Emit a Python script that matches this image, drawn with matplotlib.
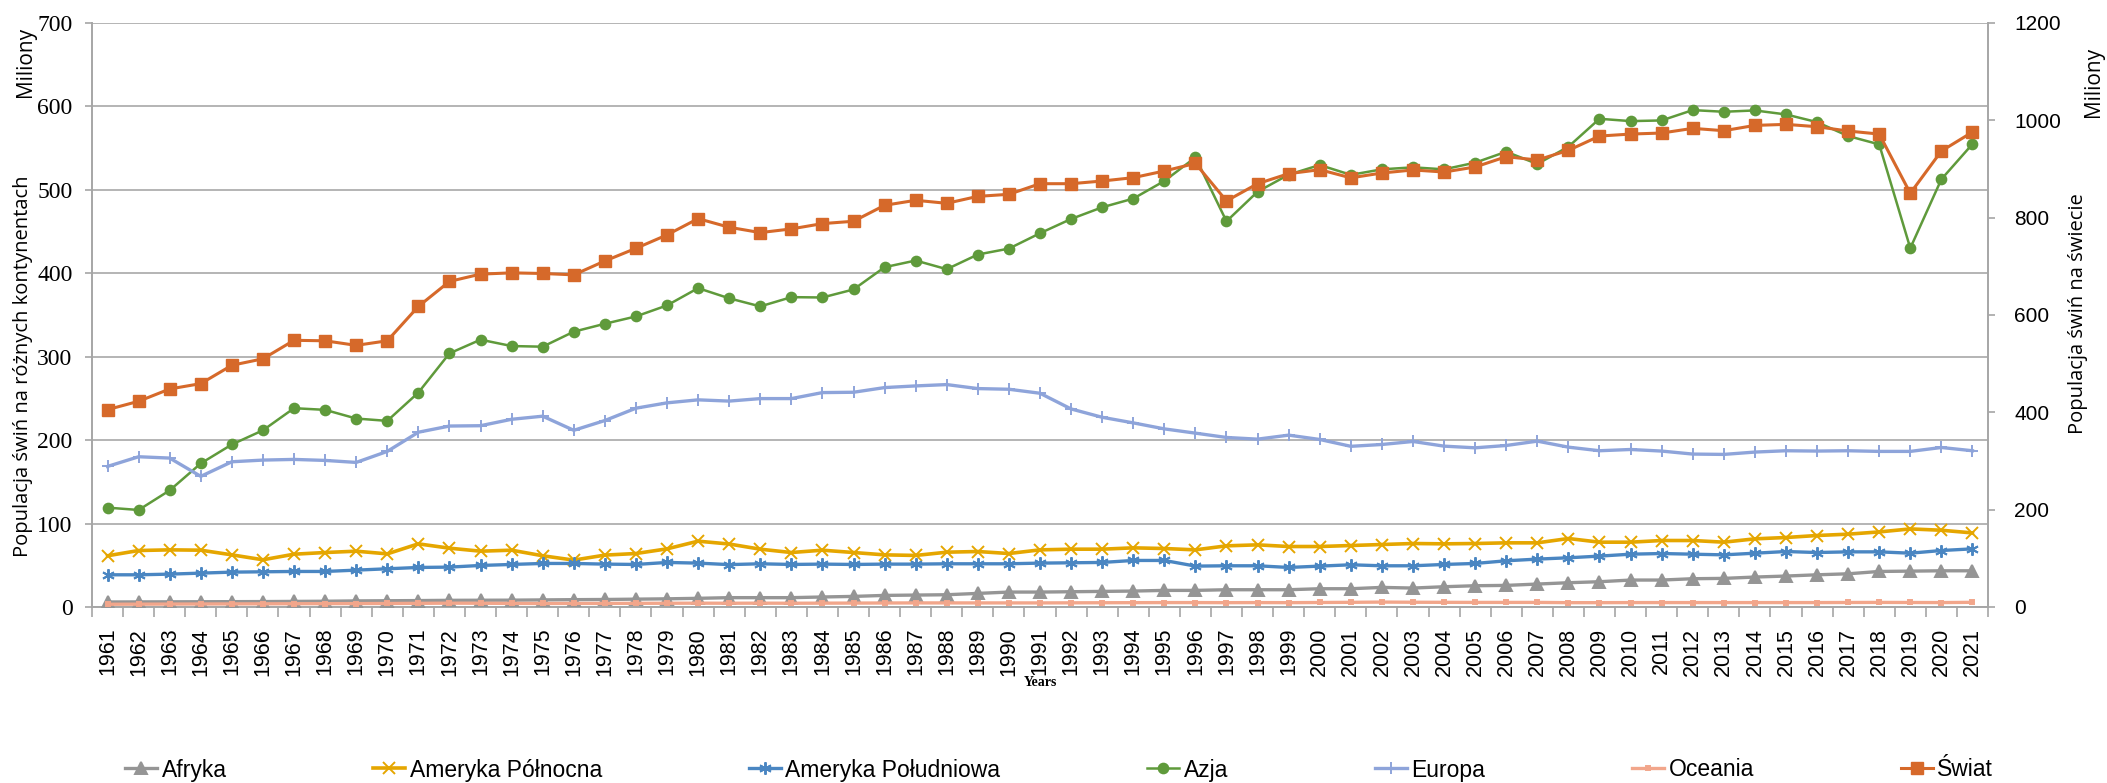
import matplotlib
matplotlib.use("Agg")
import matplotlib.pyplot as plt
from matplotlib.lines import Line2D
import numpy as np

# ── data (millions of pigs) ───────────────────────────────────────────────────
years = list(range(1961, 2022))

afryka = [6.0, 6.1, 6.2, 6.3, 6.4, 6.5, 6.7, 6.9, 7.3, 7.5,
          7.7, 8.0, 8.1, 8.2, 8.5, 8.8, 9.0, 9.4, 9.8, 10.4,
          11.2, 11.2, 11.2, 12.0, 12.7, 13.9, 14.3, 14.7, 16.3, 17.9,
          17.9, 18.3, 18.7, 19.1, 19.9, 19.9, 20.7, 20.7, 20.7, 21.9,
          21.9, 23.5, 22.7, 24.3, 25.5, 25.9, 27.5, 29.1, 30.3, 32.3,
          32.3, 33.9, 34.3, 35.9, 37.1, 38.6, 39.8, 42.6, 43.0, 43.4, 43.4]

ameryka_pn = [61.4, 67.7, 68.5, 68.1, 62.5, 56.6, 63.3, 65.3, 66.9, 63.7,
              75.7, 70.5, 66.9, 68.1, 61.4, 56.2, 62.2, 64.1, 69.7, 78.9,
              75.5, 69.3, 65.3, 68.1, 65.3, 62.5, 61.8, 65.7, 66.5, 64.1,
              68.5, 69.3, 69.3, 70.9, 70.1, 68.5, 73.3, 74.5, 72.5, 72.5,
              73.7, 74.9, 76.1, 75.7, 76.1, 76.9, 76.9, 82.1, 77.7, 77.7,
              79.7, 79.7, 77.7, 81.7, 83.3, 85.7, 87.3, 90.0, 93.6, 92.0, 88.8]

ameryka_pd = [38.6, 38.6, 39.4, 40.6, 41.8, 42.2, 42.6, 42.6, 44.2, 45.8,
              47.4, 47.8, 49.8, 51.0, 52.2, 52.2, 51.4, 51.0, 53.4, 52.6,
              50.8, 51.8, 51.0, 51.4, 51.0, 51.4, 51.4, 51.8, 51.8, 51.8,
              52.6, 53.0, 53.4, 55.8, 55.8, 49.0, 49.4, 49.4, 47.4, 49.0,
              50.6, 49.4, 49.4, 51.0, 52.2, 55.4, 57.4, 59.0, 61.0, 63.3,
              64.1, 63.3, 62.5, 64.5, 66.5, 65.3, 66.1, 66.1, 64.5, 67.7, 69.7]

azja = [119.1, 116.3, 139.8, 172.1, 194.8, 211.8, 238.3, 236.3, 225.9, 223.1,
        257.0, 304.0, 320.4, 312.8, 312.0, 330.0, 339.5, 348.3, 361.5, 382.2,
        370.0, 360.3, 371.4, 371.0, 380.6, 407.3, 415.3, 404.9, 422.5, 429.6,
        448.0, 465.1, 479.1, 489.5, 510.6, 538.9, 462.3, 497.8, 518.2, 529.8,
        518.0, 524.6, 527.0, 524.6, 532.6, 545.7, 531.0, 551.7, 585.2, 582.4,
        583.2, 595.6, 593.6, 595.2, 590.4, 581.2, 564.5, 554.5, 430.1, 512.7, 554.9]

europa = [168.5, 180.1, 178.5, 156.6, 174.1, 176.1, 176.9, 175.7, 173.3, 186.5,
          209.5, 216.9, 217.3, 225.0, 228.7, 211.8, 223.5, 238.3, 244.7, 248.3,
          246.8, 249.8, 249.8, 257.0, 257.4, 263.0, 265.0, 266.6, 261.8, 261.0,
          256.2, 237.4, 227.4, 220.7, 213.5, 208.4, 203.2, 201.2, 206.0, 200.8,
          192.6, 194.8, 198.4, 192.8, 190.8, 193.6, 198.8, 191.6, 187.3, 188.8,
          186.9, 183.3, 182.9, 185.7, 187.3, 186.9, 187.3, 186.5, 186.5, 191.2, 187.3]

oceania = [3.3, 3.4, 3.5, 3.6, 3.7, 3.8, 3.9, 4.0, 4.1, 4.2,
           4.4, 4.6, 4.5, 4.3, 4.2, 4.3, 4.3, 4.4, 4.5, 4.6,
           4.5, 4.6, 4.5, 4.6, 4.7, 4.8, 4.9, 4.9, 4.9, 4.9,
           4.9, 5.0, 5.1, 5.2, 5.3, 5.3, 5.2, 5.3, 5.2, 5.4,
           5.6, 5.9, 5.7, 5.6, 5.5, 5.5, 5.5, 5.2, 5.2, 5.3,
           5.3, 5.3, 5.3, 5.3, 5.3, 5.3, 5.4, 5.5, 5.4, 5.3, 5.6]

swiat = [405.6, 422.7, 448.0, 459.0, 496.7, 510.0, 548.0, 547.0, 537.6, 547.0,
         617.6, 669.0, 684.0, 686.6, 685.3, 682.5, 711.0, 737.0, 764.6, 798.0,
         780.3, 769.3, 776.9, 787.8, 792.6, 825.4, 835.7, 829.5, 843.8, 848.0,
         869.8, 869.8, 875.3, 882.2, 895.9, 911.5, 834.4, 869.8, 890.4, 898.6,
         881.8, 891.8, 898.0, 893.8, 904.1, 925.3, 918.5, 938.3, 967.7, 971.8,
         973.9, 983.5, 978.7, 989.6, 991.7, 986.9, 978.0, 971.8, 850.1, 936.9, 975.9]

left_ticks = [0, 100, 200, 300, 400, 500, 600, 700]
right_ticks = [0, 200, 400, 600, 800, 1000, 1200]

# ── styling ───────────────────────────────────────────────────────────────────
W, H = 2107, 783
SANS = ["Liberation Sans", "DejaVu Sans"]
SERIF = ["Liberation Serif", "DejaVu Serif"]
LABEL_FONT = ["Open Sans", "DejaVu Sans"]
AXIS_GREY = "#A6A6A6"
GRID = "#B4B4B4"

# name, values, colour, marker, marker size, line width
continents = [
    ("Afryka", afryka, "#959595", "^", 8, 2.4),
    ("Ameryka Północna", ameryka_pn, "#E5A600", "x", 8, 2.6),
    ("Ameryka Południowa", ameryka_pd, "#4A86C2", (6, 2, 0), 9, 2.4),
    ("Azja", azja, "#5F9A3B", "o", 7, 1.8),
    ("Europa", europa, "#8EA4DA", "+", 8, 2.4),
    ("Oceania", oceania, "#F2A68B", "s", 3, 2.4),
]
WORLD_COLOR = "#D6692A"

fig = plt.figure(figsize=(W / 100, H / 100), dpi=100)
ax = fig.add_axes([92 / W, (H - 607) / H, (1988 - 92) / W, (607 - 23) / H])
ax2 = ax.twinx()

x = np.arange(len(years))
handles = []
for name, vals, col, mk, ms, lw in continents:
    ax.plot(x, vals, color=col, lw=lw, marker=mk, ms=ms, mew=1.4,
            mfc=col, mec=col, zorder=3)
    handles.append(Line2D([], [], color=col, lw=lw, marker=mk, ms=ms,
                          mew=1.4, mfc=col, mec=col))

ax2.plot(x, swiat, color=WORLD_COLOR, lw=2.2, marker="s", ms=8.5, zorder=3)
handles.append(Line2D([], [], color=WORLD_COLOR, lw=2.2, marker="s", ms=8.5))
names = [c[0] for c in continents] + ["Świat"]

# ── axes ──────────────────────────────────────────────────────────────────────
ax.set_xlim(-0.5, len(years) - 0.5)
ax.set_ylim(0, 700)
ax2.set_ylim(0, 1200)

ax.set_xticks(x)
ax.set_xticklabels([str(y) for y in years], rotation=90, fontsize=15.5,
                   family=SANS)
ax.set_xticks(np.arange(-0.5, len(years), 1), minor=True)
ax.tick_params(axis="x", which="major", length=0, pad=15)
ax.tick_params(axis="x", which="minor", length=7, color=AXIS_GREY, width=1.2)

ax.set_yticks(left_ticks)
ax.set_yticklabels([str(v) for v in left_ticks], fontsize=17, family=SERIF)
ax.tick_params(axis="y", length=5, color=AXIS_GREY, width=1.2, pad=9)
ax.yaxis.grid(True, color=GRID, lw=1.4)
ax.set_axisbelow(True)

ax2.set_yticks(right_ticks)
ax2.set_yticklabels([str(v) for v in right_ticks], fontsize=15, family=SANS)
ax2.tick_params(axis="y", length=5, color=AXIS_GREY, width=1.2, pad=14)

ax.spines["top"].set_visible(False)
ax2.spines["top"].set_visible(False)
ax.spines["right"].set_visible(False)
for s in ("left", "bottom"):
    ax.spines[s].set_color(AXIS_GREY)
    ax.spines[s].set_linewidth(1.4)
ax2.spines["left"].set_visible(False)
ax2.spines["bottom"].set_visible(False)
ax2.spines["right"].set_color(AXIS_GREY)
ax2.spines["right"].set_linewidth(1.4)

# ── labels ────────────────────────────────────────────────────────────────────
fig.text(25 / W, 1 - 62 / H, "Miliony", rotation=90, ha="center", va="center",
         fontsize=15, family=LABEL_FONT)
fig.text(23 / W, 1 - 366 / H, "Populacja świń na różnych kontynentach",
         rotation=90, ha="center", va="center", fontsize=14.5, family=LABEL_FONT)
fig.text(2094 / W, 1 - 82 / H, "Miliony", rotation=90, ha="center",
         va="center", fontsize=15, family=LABEL_FONT)
fig.text(2078 / W, 1 - 314 / H, "Populacja świń na świecie", rotation=90,
         ha="center", va="center", fontsize=14.5, family=LABEL_FONT)
fig.text(1040 / W, 1 - 683 / H, "Years", ha="center", va="center",
         fontsize=10, fontweight="bold", family=SERIF)

fig.legend(handles, names, loc="center", bbox_to_anchor=(1059 / W, 1 - 770 / H),
           ncol=7, frameon=False, prop={"family": SANS, "size": 16.5},
           handlelength=1.4, handletextpad=0.2, columnspacing=6.4,
           borderaxespad=0)

fig.savefig("out.png", dpi=100, facecolor="white")
plt.close(fig)
